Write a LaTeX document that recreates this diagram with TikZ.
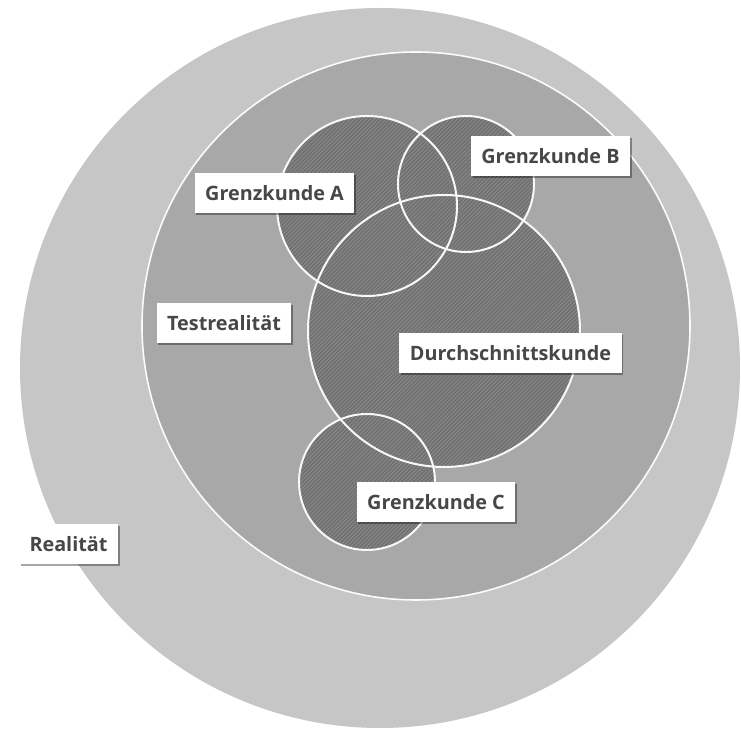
\documentclass[tikz,border=0pt]{standalone}
\usepackage{fontspec}
\setmainfont{Open Sans}
\usepackage{tikz}
\usetikzlibrary{patterns.meta,shadows}
\definecolor{realfill}{HTML}{C6C6C6}
\definecolor{testfill}{HTML}{A8A8A8}
\definecolor{kundefill}{HTML}{707070}
\definecolor{kundeline}{HTML}{8A8A8A}
\definecolor{labeltext}{HTML}{474747}
\tikzset{zone/.style={draw=white!95!testfill, line width=0.8pt}, kunde/.style={fill=kundefill, postaction={pattern={Lines[angle=45,distance=1.4pt,line width=0.45pt]}, pattern color=kundeline}}, rim/.style={draw=white!95!kundefill, line width=1pt}, tag/.style={fill=white, text=labeltext, font=\fontsize{9.9}{12}\selectfont\bfseries, inner xsep=5.3pt, minimum height=20pt, drop shadow={shadow xshift=0.9pt, shadow yshift=-0.9pt, opacity=0.35, fill=black}}}

\begin{document}
\begin{tikzpicture}[x=0.5pt,y=-0.5pt]%[scale=0.75]
\useasboundingbox (0,0) rectangle (741,731);
% Realitaet and Testrealitaet
\fill[realfill] (380,368) circle[radius=360];
\fill[testfill] (416,326) circle[radius=274];
\draw[zone] (416,326) circle[radius=274];
% customers
\path[kunde] (367,206) circle[radius=90];
\path[kunde] (466,184) circle[radius=68];
\path[kunde] (444,331) circle[radius=136];
\path[kunde] (367,482) circle[radius=68];
\draw[rim] (367,206) circle[radius=90];
\draw[rim] (466,184) circle[radius=68];
\draw[rim] (444,331) circle[radius=136];
\draw[rim] (367,482) circle[radius=68];
% labels
\node[tag] (real) at (68.5,544.5) {Realität};
\node[tag] (test) at (224,323) {Testrealität};
\node[tag] (grenzA) at (274.5,193) {Grenzkunde A};
\node[tag] (grenzB) at (550.5,156) {Grenzkunde B};
\node[tag] (durch) at (510.5,353) {Durchschnittskunde};
\node[tag] (grenzC) at (436,502.5) {Grenzkunde C};
\end{tikzpicture}
\end{document}
